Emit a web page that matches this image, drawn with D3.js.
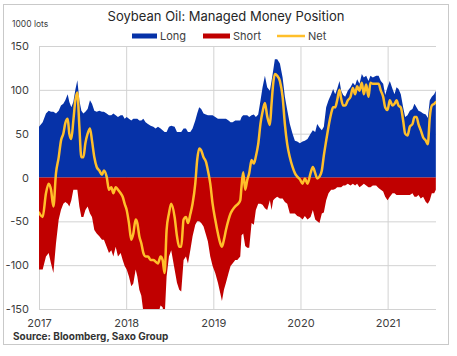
<!DOCTYPE html>
<html><head><meta charset="utf-8">
<script src="https://cdn.jsdelivr.net/npm/d3@7"></script>
<style>
body{margin:0;background:#fff;}
svg{display:block;font-family:Inter,"Noto Sans",sans-serif;}
</style>
</head><body>
<svg id="chart" width="457" height="356"></svg>
<script>
// ---- data (decimal year, 1000 lots) ----
const years = [
2017.000,2017.042,2017.080,2017.111,2017.138,2017.165,2017.195,2017.226,2017.252,2017.279,2017.302,2017.329,2017.348,2017.371,2017.394,2017.417,2017.440,2017.463,2017.486,2017.509,2017.532,2017.558,2017.585,2017.608,2017.635,2017.662,2017.692,2017.723,
2017.745,2017.776,2017.803,2017.830,2017.853,2017.880,2017.906,2017.937,2017.960,2017.983,2018.006,2018.032,2018.059,2018.082,2018.109,2018.128,2018.151,2018.174,2018.197,2018.223,2018.250,2018.281,2018.311,2018.338,2018.365,2018.395,2018.418,2018.441,2018.464,2018.491,2018.517,
2018.556,2018.583,2018.609,2018.632,2018.659,2018.686,2018.709,2018.736,2018.762,2018.793,2018.815,2018.838,2018.861,2018.888,2018.915,2018.938,2018.965,2018.992,2019.022,2019.053,2019.080,2019.099,2019.122,2019.145,2019.175,2019.198,2019.221,2019.252,2019.275,2019.309,
2019.324,2019.343,2019.366,2019.389,2019.412,2019.439,2019.465,2019.488,2019.515,2019.542,2019.565,2019.592,2019.618,2019.649,2019.668,2019.687,2019.706,2019.733,2019.764,2019.795,2019.821,2019.848,2019.878,2019.909,2019.936,2019.963,2019.993,2020.024,2020.050,2020.081,
2020.116,2020.142,2020.169,2020.192,2020.218,2020.245,2020.268,2020.295,2020.322,2020.352,2020.375,2020.398,2020.421,2020.448,2020.467,2020.490,2020.513,2020.543,2020.574,2020.601,2020.627,2020.650,2020.677,2020.704,2020.727,2020.754,2020.780,2020.803,2020.830,2020.868,
2020.896,2020.922,2020.949,2020.972,2020.999,2021.025,2021.056,2021.079,2021.102,2021.125,2021.151,2021.178,2021.201,2021.228,2021.255,2021.285,2021.308,2021.331,2021.354,2021.380,2021.407,2021.438,2021.461,2021.484,2021.507,2021.534,2021.553
];
const longPos = [
58,63,73,76,75,75,73,76,82,84,88,95,86,80,86,100,111,88,76,73,75,78,88,84,76,75,76,75,
75,73,71,71,73,71,69,71,71,67,69,67,65,67,67,67,65,65,67,63,61,59,58,56,58,56,54,52,52,58,59,
58,52,52,52,56,56,52,52,56,65,73,80,78,73,72,71,71,71,69,67,67,67,67,67,65,63,63,65,65,65,
69,71,71,71,69,71,72,69,72,88,103,116,103,99,110,122,135,135,130,114,92,77,61,50,42,41,39,41,42,44,
50,54,52,61,57,54,58,80,88,95,101,95,101,110,99,94,92,99,103,108,105,112,107,118,114,116,110,116,114,116,
116,110,107,94,103,110,101,95,103,101,95,80,69,71,76,78,84,80,76,75,73,72,68,88,92,95,99
];
const shortPos = [
-105,-105,-90,-86,-98,-109,-75,-48,-37,-30,-28,-30,-33,-26,-14,-14,-14,-33,-45,-45,-37,-33,-41,-45,-60,-64,-67,-71,
-71,-79,-86,-83,-90,-79,-90,-86,-94,-101,-105,-113,-124,-121,-105,-113,-128,-135,-153,-153,-151,-153,-152,-152,-156,-146,-148,-160,-113,-90,-83,
-105,-120,-128,-130,-94,-90,-98,-83,-67,-54,-50,-50,-52,-56,-65,-73,-90,-101,-109,-120,-132,-141,-128,-120,-109,-101,-98,-94,-94,-90,
-66,-64,-78,-80,-80,-52,-54,-37,-30,-30,-31,-35,-37,-26,-37,-26,-24,-22,-24,-24,-28,-30,-41,-41,-41,-44,-45,-48,-44,-48,
-45,-37,-48,-50,-52,-41,-40,-26,-18,-14,-14,-13,-11,-11,-11,-9,-9,-7,-9,-7,-9,-7,-11,-9,-7,-9,-11,-11,-9,-9,
-12,-14,-16,-22,-26,-22,-18,-18,-20,-20,-20,-20,-20,-20,-20,-18,-22,-22,-20,-24,-22,-28,-30,-26,-18,-18,-14
];
const netPos = [
-40,-45,-18,-7,-14,-33,5,23,42,50,62,67,50,44,65,88,97,58,23,23,39,50,56,42,23,12,8,3,
8,1,-14,-11,-18,-11,-14,-18,-22,-30,-37,-52,-71,-64,-48,-52,-67,-75,-86,-90,-90,-94,-94,-96,-98,-90,-94,-109,-60,-41,-30,
-45,-67,-79,-79,-48,-45,-52,-42,-30,-7,20,33,31,23,18,8,-7,-30,-48,-64,-75,-79,-71,-60,-48,-41,-37,-33,-31,-26,
-10,6,-14,-3,5,20,16,24,38,62,75,85,70,60,84,107,118,116,110,92,61,38,23,12,5,1,-2,-7,-1,-7,
5,12,5,-1,1,8,25,42,58,73,80,80,88,100,90,82,82,88,92,102,95,104,99,108,95,106,92,108,107,107,
107,99,92,80,77,88,82,84,88,82,80,65,50,48,58,61,69,69,61,54,46,42,38,69,82,84,86
];
const seriesNames = ["Long","Short","Net"];
const xTicks = [2017,2018,2019,2020,2021];
const xTickLabels = ["2017","2018","2019","2020","2021"];
const yTicks = [-150,-100,-50,0,50,100,150];
const xDomain = [2017, 2021.555];
const yDomain = [-150, 150];

// ---- layout / style ----
const W = 457, H = 356;
const m = {top:46, right:21, bottom:47, left:39};
const colLong = "#0632a8", colShort = "#c00000", colNet = "#ffbf2a";
const gridCol = "#d2d2d2", txtCol = "#404040";

const svg = d3.select("#chart");
svg.append("rect").attr("x",3.5).attr("y",4.5).attr("width",445).attr("height",340)
  .attr("fill","#fff").attr("stroke","#c9c9c9");

const x = d3.scaleLinear().domain(xDomain).range([m.left, W-m.right]);
const y = d3.scaleLinear().domain(yDomain).range([H-m.bottom, m.top]);

const data = years.map((t,i)=>({t, l:longPos[i], s:shortPos[i], n:netPos[i]}));

svg.append("clipPath").attr("id","clip").append("rect")
  .attr("x",m.left).attr("y",m.top).attr("width",W-m.left-m.right).attr("height",H-m.top-m.bottom);

// grid + axes
const gy = svg.append("g").attr("transform",`translate(${m.left},0)`)
  .call(d3.axisLeft(y).tickValues(yTicks).tickSize(-(W-m.left-m.right)).tickPadding(10).tickFormat(d=>String(d)));
gy.select(".domain").remove();
gy.selectAll("line").attr("stroke",gridCol);
gy.selectAll("text").attr("fill",txtCol).style("font-size","11px").style("font-family","Inter, sans-serif");

const gx = svg.append("g").attr("transform",`translate(0,${H-m.bottom})`)
  .call(d3.axisBottom(x).tickValues(xTicks).tickSize(-(H-m.top-m.bottom)).tickPadding(10).tickFormat((d,i)=>xTickLabels[i]));
gx.select(".domain").remove();
gx.selectAll("line").attr("stroke",gridCol);
gx.selectAll("text").attr("fill",txtCol).style("font-size","11px").style("font-family","Inter, sans-serif");

const plot = svg.append("g").attr("clip-path","url(#clip)");
plot.append("path").datum(data).attr("fill",colLong)
  .attr("d", d3.area().x(d=>x(d.t)).y0(y(0)).y1(d=>y(d.l)));
plot.append("path").datum(data).attr("fill",colShort)
  .attr("d", d3.area().x(d=>x(d.t)).y0(y(0)).y1(d=>y(d.s)));
plot.append("path").datum(data).attr("fill","none").attr("stroke",colNet)
  .attr("stroke-width",2.5).attr("stroke-linejoin","round").attr("stroke-linecap","round")
  .attr("d", d3.line().x(d=>x(d.t)).y(d=>y(d.n)).curve(d3.curveMonotoneX));

// titles
svg.append("text").attr("x",226).attr("y",21).attr("text-anchor","middle")
  .attr("fill","#262626").style("font-size","13px").text("Soybean Oil: Managed Money Position");
svg.append("text").attr("x",12).attr("y",27).attr("fill",txtCol).style("font-size","8.5px").text("1000 lots");

// legend
const lg = svg.append("g");
lg.append("rect").attr("x",132).attr("y",33.5).attr("width",25).attr("height",5).attr("fill",colLong);
lg.append("text").attr("x",160).attr("y",36).attr("dy","0.35em").attr("fill",txtCol).style("font-size","11px").text(seriesNames[0]);
lg.append("rect").attr("x",203).attr("y",33.5).attr("width",27).attr("height",5).attr("fill",colShort);
lg.append("text").attr("x",233).attr("y",36).attr("dy","0.35em").attr("fill",txtCol).style("font-size","11px").text(seriesNames[1]);
lg.append("line").attr("x1",277).attr("x2",305).attr("y1",36).attr("y2",36).attr("stroke",colNet).attr("stroke-width",2.5);
lg.append("text").attr("x",308).attr("y",36).attr("dy","0.35em").attr("fill",txtCol).style("font-size","11px").text(seriesNames[2]);

// source
svg.append("text").attr("x",13).attr("y",339.5).attr("fill","#333").style("font-size","10px")
  .style("font-weight","bold").text("Source: Bloomberg, Saxo Group");
</script>
</body></html>
